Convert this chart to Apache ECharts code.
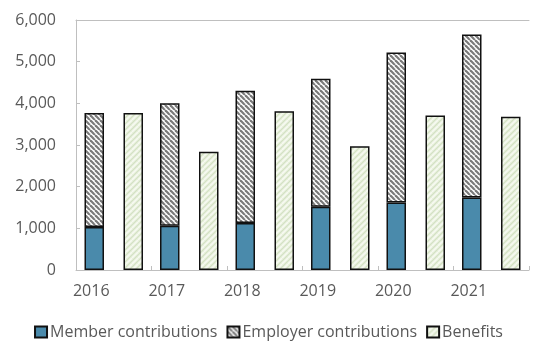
<!DOCTYPE html>
<html>
<head>
<meta charset="utf-8">
<script src="https://cdn.jsdelivr.net/npm/echarts@6/dist/echarts.min.js"></script>
<style>
  html, body { margin: 0; padding: 0; background: #fff; }
  #chart { width: 537px; height: 350px; }
</style>
</head>
<body>
<div id="chart"></div>
<script>
// Pension fund cash flows by year
const years = ['2016', '2017', '2018', '2019', '2020', '2021'];
const memberContributions = [1030, 1060, 1130, 1520, 1620, 1740];
const employerContributions = [2740, 2940, 3170, 3070, 3600, 3910];
const benefits = [3770, 2840, 3810, 2970, 3710, 3680];
const yTicks = { min: 0, max: 6000, interval: 1000 };

// Hatch fills
function hatch(size, bg, lines) {
  const c = document.createElement('canvas');
  c.width = size; c.height = size;
  const g = c.getContext('2d');
  g.fillStyle = bg;
  g.fillRect(0, 0, size, size);
  lines.forEach(function (l) {
    g.strokeStyle = l.color;
    g.lineWidth = l.width;
    for (let k = -1; k <= 1; k++) {
      g.beginPath();
      if (l.dir === 'down') {
        g.moveTo(k * size + l.offset, 0);
        g.lineTo(k * size + l.offset + size, size);
      } else {
        g.moveTo(k * size + l.offset, size);
        g.lineTo(k * size + l.offset + size, 0);
      }
      g.stroke();
    }
  });
  return c;
}

const employerFill = hatch(5, '#ffffff', [{ color: '#7a7a7a', width: 2.2, dir: 'down', offset: 0 }]);
const benefitsFill = hatch(6, '#e3edd5', [
  { color: '#f7faf2', width: 1.6, dir: 'up', offset: 0 },
  { color: '#cfdcc0', width: 0.8, dir: 'up', offset: 3 }
]);

const textColor = '#595959';
const axisGray = '#bfbfbf';
const fontFamily = '"Open Sans", "Noto Sans", sans-serif';

const chart = echarts.init(document.getElementById('chart'), null, { renderer: 'canvas' });
chart.setOption({
  animation: false,
  textStyle: { fontFamily: fontFamily },
  grid: { left: 76, right: 8, top: 20, bottom: 80 },
  legend: {
    bottom: 5,
    left: 'center',
    itemWidth: 12,
    itemHeight: 11,
    itemGap: 9,
    icon: 'rect',
    textStyle: { color: textColor, fontSize: 16, fontFamily: fontFamily, padding: [0, 0, 0, -2] },
    data: ['Member contributions', 'Employer contributions', 'Benefits']
  },
  xAxis: [
    {
      type: 'category',
      data: years,
      axisLine: { show: true, lineStyle: { color: axisGray, width: 1 } },
      axisTick: { show: true, inside: true, length: 4, lineStyle: { color: axisGray } },
      axisLabel: {
        color: textColor, fontSize: 16, margin: 13,
        padding: [0, 45, 0, 0]
      },
      splitLine: { show: false }
    },
    {
      type: 'category',
      position: 'top',
      data: years,
      axisLine: { show: true, lineStyle: { color: axisGray, width: 1 } },
      axisTick: { show: false },
      axisLabel: { show: false }
    }
  ],
  yAxis: {
    type: 'value',
    min: yTicks.min,
    max: yTicks.max,
    interval: yTicks.interval,
    axisLine: { show: true, lineStyle: { color: axisGray, width: 1 } },
    axisTick: { show: true, inside: true, length: 4, lineStyle: { color: axisGray } },
    splitLine: { show: false },
    axisLabel: {
      color: textColor, fontSize: 16, margin: 20,
      formatter: function (v) { return v.toLocaleString('en-US'); }
    }
  },
  series: [
    {
      name: 'Member contributions',
      type: 'bar',
      stack: 'contrib',
      barWidth: 19.5,
      barGap: '100%',
      data: memberContributions,
      itemStyle: { color: '#4a8aab', borderColor: '#111', borderWidth: 1.5 }
    },
    {
      name: 'Employer contributions',
      type: 'bar',
      stack: 'contrib',
      barWidth: 19.5,
      data: employerContributions,
      itemStyle: {
        color: { image: employerFill, repeat: 'repeat' },
        borderColor: '#111', borderWidth: 1.5
      }
    },
    {
      name: 'Benefits',
      type: 'bar',
      stack: 'paid',
      barWidth: 19.5,
      barGap: '100%',
      data: benefits,
      itemStyle: {
        color: { image: benefitsFill, repeat: 'repeat' },
        borderColor: '#111', borderWidth: 1.5
      }
    }
  ]
});
</script>
</body>
</html>
